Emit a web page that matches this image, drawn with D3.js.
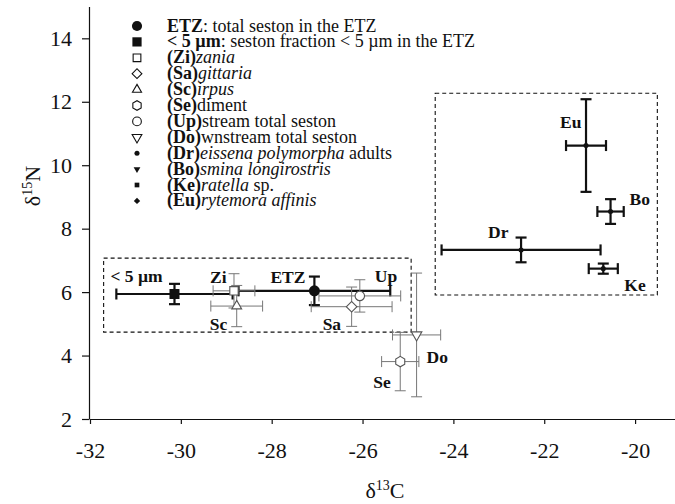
<!DOCTYPE html>
<html>
<head>
<meta charset="utf-8">
<script src="https://cdn.jsdelivr.net/npm/d3@7"></script>
<style>
  body { margin: 0; background: #fff; }
  svg { display: block; }
  svg text { font-family: 'Liberation Serif', 'DejaVu Serif', serif; }
</style>
</head>
<body>
<svg id="canvas" width="675" height="504"></svg>
<script>
// data (mean and sd for d13C / d15N)
let codes = ["ETZ", "< 5 µm", "Zi", "Sa", "Sc", "Se", "Up", "Do", "Dr", "Bo", "Ke", "Eu"];
let meanC = [-27.06, -30.14, -28.83, -26.24, -28.77, -25.17, -26.06, -24.81, -22.51, -20.54, -20.70, -21.08];
let meanN = [6.04, 5.94, 6.04, 5.54, 5.56, 3.81, 5.88, 4.65, 7.33, 8.54, 6.74, 10.62];
let sdC = [1.67, 1.28, 0.46, 0.89, 0.57, 0.41, 0.90, 0.53, 1.75, 0.29, 0.32, 0.44];
let sdN = [0.45, 0.32, 0.54, 0.62, 0.65, 0.92, 0.51, 1.95, 0.39, 0.39, 0.16, 1.46];
let symbols = ["dot", "square", "openSquare", "openDiamond", "openTriangle", "openHex", "openCircle", "openDown", "smallDot", "smallDown", "smallSquare", "smallDiamond"];

let xTicks = [-32, -30, -28, -26, -24, -22, -20];
let yTicks = [2, 4, 6, 8, 10, 12, 14];

// dashed boxes in data units: [xmin, xmax, ymin, ymax]
let boxes = [[-31.7, -24.93, 4.74, 7.07], [-24.4, -19.51, 5.91, 12.27]];

// legend text: [text, b = bold / i = italic]
let legendText = [
  [["ETZ", "b"], [": total seston in the ETZ", ""]],
  [["< 5 µm", "b"], [": seston fraction < 5 µm in the ETZ", ""]],
  [["(Zi)", "b"], ["zania", "i"]],
  [["(Sa)", "b"], ["gittaria", "i"]],
  [["(Sc)", "b"], ["irpus", "i"]],
  [["(Se)", "b"], ["diment", ""]],
  [["(Up)", "b"], ["stream total seston", ""]],
  [["(Do)", "b"], ["wnstream total seston", ""]],
  [["(Dr)", "b"], ["eissena polymorpha", "i"], [" adults", ""]],
  [["(Bo)", "b"], ["smina longirostris", "i"]],
  [["(Ke)", "b"], ["ratella", "i"], [" sp.", ""]],
  [["(Eu)", "b"], ["rytemora affinis", "i"]]
];

// label offsets (px) from each point
let labelOffset = {
  "ETZ": [-44, -8], "< 5 µm": [-64, -12], "Zi": [-24, -8], "Sa": [-29, 23],
  "Sc": [-27, 24], "Se": [-27, 26], "Up": [15, -14], "Do": [10, 28],
  "Dr": [-33, -12], "Bo": [19, -7], "Ke": [21, 22], "Eu": [-26, -18]
};

let canvas = d3.select("#canvas");

let x = d3.scaleLinear().domain([-32, -19]).range([90, 680.5]);
let y = d3.scaleLinear().domain([2, 15]).range([419, 6.6]);

// axes (plain hyphen minus like the original)
let xAxis = canvas.append("g")
  .attr("transform", "translate(0,419)")
  .call(d3.axisBottom(x).tickValues(xTicks).tickFormat((d) => String(d))
    .tickSize(5).tickSizeOuter(0).tickPadding(18));
let yAxis = canvas.append("g")
  .attr("transform", "translate(89,0)")
  .call(d3.axisLeft(y).tickValues(yTicks).tickFormat((d) => String(d))
    .tickSize(7).tickSizeOuter(0).tickPadding(10));
[xAxis, yAxis].forEach((g) => {
  g.attr("font-family", null).attr("font-size", null);
  g.selectAll("path, line").attr("stroke", "#111").attr("stroke-width", 1.2);
  g.selectAll("text").attr("font-size", 22).attr("fill", "#111");
});

// axis titles
let xTitle = canvas.append("text").attr("x", 385).attr("y", 498)
  .attr("text-anchor", "middle").attr("font-size", 22).attr("fill", "#111");
xTitle.append("tspan").text("δ");
xTitle.append("tspan").text("13").attr("font-size", 14).attr("dy", -8);
xTitle.append("tspan").text("C").attr("dy", 8);

let yTitle = canvas.append("text").attr("transform", "translate(40,186) rotate(-90)")
  .attr("text-anchor", "middle").attr("font-size", 22).attr("fill", "#111");
yTitle.append("tspan").text("δ");
yTitle.append("tspan").text("15").attr("font-size", 14).attr("dy", -8);
yTitle.append("tspan").text("N").attr("dy", 8);

// dashed boxes
canvas.selectAll("rect.box").data(boxes).enter().append("rect")
  .attr("class", "box")
  .attr("x", (b) => x(b[0])).attr("y", (b) => y(b[3]))
  .attr("width", (b) => x(b[1]) - x(b[0])).attr("height", (b) => y(b[2]) - y(b[3]))
  .attr("fill", "none").attr("stroke", "#111").attr("stroke-width", 1.1)
  .attr("stroke-dasharray", "4,3");

let points = codes.map((c, i) => ({
  code: c, cx: meanC[i], ny: meanN[i], sx: sdC[i], sy: sdN[i], sym: symbols[i]
}));

let isGray = (d) => d.sym.startsWith("open");

// error bars
let cap = 5.5;
let bars = canvas.append("g");
points.forEach((d) => {
  let col = isGray(d) ? "#777" : "#111";
  let w = isGray(d) ? 1 : 2.2;
  let g = bars.append("g").attr("stroke", col).attr("stroke-width", w);
  let px = x(d.cx), py = y(d.ny);
  let x0 = x(d.cx - d.sx), x1 = x(d.cx + d.sx), y0 = y(d.ny - d.sy), y1 = y(d.ny + d.sy);
  g.append("line").attr("x1", x0).attr("x2", x1).attr("y1", py).attr("y2", py);
  g.append("line").attr("x1", px).attr("x2", px).attr("y1", y0).attr("y2", y1);
  [x0, x1].forEach((v) => g.append("line").attr("x1", v).attr("x2", v).attr("y1", py - cap).attr("y2", py + cap));
  [y0, y1].forEach((v) => g.append("line").attr("x1", px - cap).attr("x2", px + cap).attr("y1", v).attr("y2", v));
});

// marker shapes
let hexPath = (r) => d3.range(6).map((k) => {
  let a = Math.PI / 6 + k * Math.PI / 3;
  return (k ? "L" : "M") + (r * Math.cos(a)).toFixed(2) + "," + (r * Math.sin(a)).toFixed(2);
}).join("") + "Z";

let drawSymbol = (g, sym, scale) => {
  let s = scale;
  let open = sym.startsWith("open");
  let p;
  if (sym === "dot") p = g.append("path").attr("d", d3.symbol(d3.symbolCircle, 95 * s)());
  else if (sym === "square") p = g.append("path").attr("d", d3.symbol(d3.symbolSquare, 100 * s)());
  else if (sym === "openSquare") p = g.append("path").attr("d", d3.symbol(d3.symbolSquare, 70 * s)());
  else if (sym === "openDiamond") p = g.append("path").attr("d", d3.symbol(d3.symbolSquare, 56 * s)()).attr("transform", "rotate(45)");
  else if (sym === "openTriangle") p = g.append("path").attr("d", d3.symbol(d3.symbolTriangle, 42 * s)());
  else if (sym === "openHex") p = g.append("path").attr("d", hexPath(5.2 * Math.sqrt(s)));
  else if (sym === "openCircle") p = g.append("path").attr("d", d3.symbol(d3.symbolCircle, 70 * s)());
  else if (sym === "openDown") p = g.append("path").attr("d", d3.symbol(d3.symbolTriangle, 48 * s)()).attr("transform", "rotate(180)");
  else if (sym === "smallDot") p = g.append("path").attr("d", d3.symbol(d3.symbolCircle, 20)());
  else if (sym === "smallDown") p = g.append("path").attr("d", d3.symbol(d3.symbolTriangle, 20)()).attr("transform", "rotate(180)");
  else if (sym === "smallSquare") p = g.append("path").attr("d", d3.symbol(d3.symbolSquare, 22)());
  else p = g.append("path").attr("d", d3.symbol(d3.symbolSquare, 20)()).attr("transform", "rotate(45)");
  if (open) p.attr("fill", "#fff").attr("stroke", scale < 1 ? "#111" : "#555").attr("stroke-width", 1.1);
  else p.attr("fill", "#111");
};

points.forEach((d) => {
  let g = canvas.append("g").attr("transform", "translate(" + x(d.cx) + "," + y(d.ny) + ")");
  let sym = d.sym.startsWith("small") ? "smallDot" : d.sym;
  drawSymbol(g, sym, 1);
});

// point labels
points.forEach((d) => {
  let off = labelOffset[d.code];
  canvas.append("text")
    .attr("x", x(d.cx) + off[0]).attr("y", y(d.ny) + off[1])
    .attr("font-size", 17.5).attr("font-weight", "bold").attr("fill", "#111")
    .text(d.code);
});

// legend
let legend = canvas.append("g");
legendText.forEach((parts, i) => {
  let ly = 26 + i * 15.9;
  let g = legend.append("g").attr("transform", "translate(137," + ly + ")");
  drawSymbol(g, symbols[i], 0.85);
  let t = legend.append("text").attr("x", 167).attr("y", ly + 5.5)
    .attr("font-size", 18).attr("fill", "#111");
  parts.forEach((p) => {
    t.append("tspan").text(p[0])
      .attr("font-weight", p[1] === "b" ? "bold" : "normal")
      .attr("font-style", p[1] === "i" ? "italic" : "normal");
  });
});
</script>
</body>
</html>
